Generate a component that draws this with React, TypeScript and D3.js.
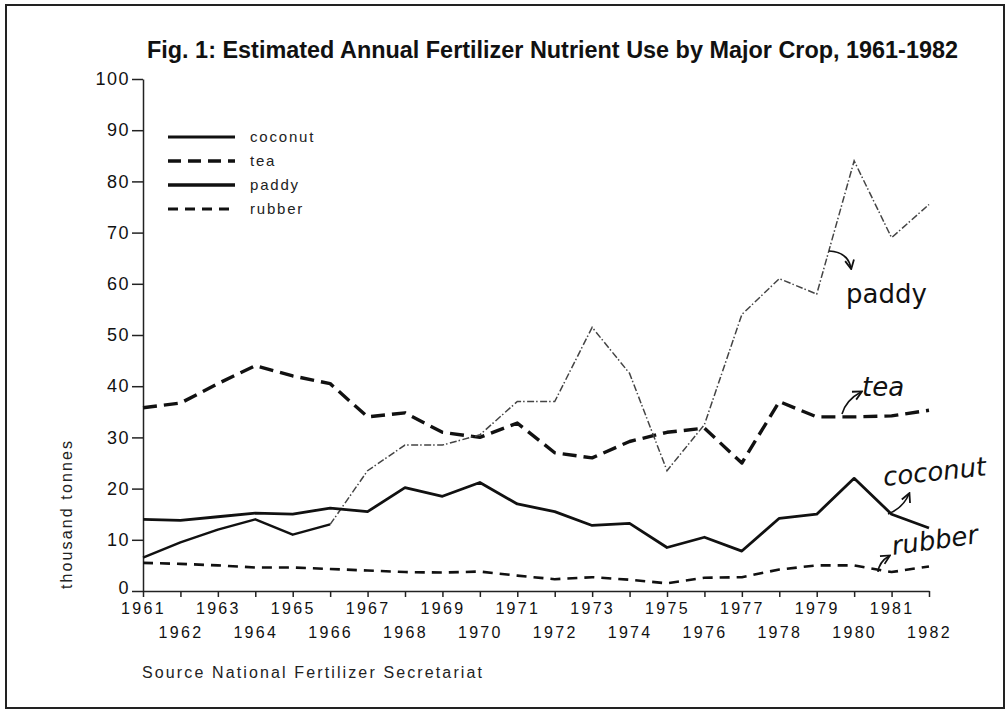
import React, { useEffect, useRef } from 'react';
import * as d3 from 'd3';

// values (thousand tonnes)
const years = [1961, 1962, 1963, 1964, 1965, 1966, 1967, 1968, 1969, 1970, 1971,
    1972, 1973, 1974, 1975, 1976, 1977, 1978, 1979, 1980, 1981, 1982];
const coconut = [14, 13.8, 14.5, 15.2, 15, 16.2, 15.5, 20.2, 18.5, 21.2, 17,
    15.5, 12.8, 13.2, 8.5, 10.5, 7.8, 14.2, 15, 22, 15, 12.3];
const tea = [35.8, 36.7, 40.5, 44, 42, 40.5, 34, 34.8, 31, 30, 32.8,
    27, 26, 29.2, 31, 31.8, 25, 37, 34, 34, 34.2, 35.3];
const paddy = [6.5, 9.5, 12, 14, 11, 13, 23.5, 28.5, 28.5, 30.5, 37,
    37, 51.5, 42.5, 23.5, 32.5, 54, 61, 58, 84, 69, 75.5];
const rubber = [5.5, 5.3, 5, 4.6, 4.6, 4.3, 4, 3.7, 3.6, 3.8, 3,
    2.3, 2.7, 2.2, 1.5, 2.6, 2.7, 4.2, 5, 5, 3.7, 4.8];
const yTicks = [0, 10, 20, 30, 40, 50, 60, 70, 80, 90, 100];
const legendNames = ['coconut', 'tea', 'paddy', 'rubber'];

const title = 'Fig. 1:  Estimated Annual Fertilizer Nutrient Use by Major Crop, 1961-1982';
const yTitle = 'thousand tonnes';
const sourceNote = 'Source  National Fertilizer Secretariat';

const lineStyle = {
    coconut: { width: 3, dash: null },
    tea: { width: 3.6, dash: '13 7' },
    paddy: { width: 3.4, dash: null },
    rubber: { width: 3.2, dash: '10 7' },
};

const labelFont = '"Liberation Sans", Arial, sans-serif';
const handFont = '"DejaVu Sans", sans-serif';

export default function App() {
    const ref = useRef<SVGSVGElement>(null);

    useEffect(() => {
        const svg = d3.select(ref.current);
        svg.selectAll('*').remove();

        const x = d3.scaleLinear().domain([1961, 1982]).range([143, 929]);
        const y = d3.scaleLinear().domain([0, 100]).range([591, 79]);

        svg.append('defs')
            .append('marker')
            .attr('id', 'arrow')
            .attr('viewBox', '0 0 10 10')
            .attr('refX', 8)
            .attr('refY', 5)
            .attr('markerWidth', 7)
            .attr('markerHeight', 7)
            .attr('orient', 'auto')
            .append('path')
            .attr('d', 'M1,1 L9,5 L1,9')
            .attr('fill', 'none')
            .attr('stroke', '#111')
            .attr('stroke-width', 1.6);

        // frame
        svg.append('rect')
            .attr('x', 6).attr('y', 5)
            .attr('width', 998).attr('height', 703)
            .attr('fill', 'none')
            .attr('stroke', '#222')
            .attr('stroke-width', 2);

        svg.append('text')
            .attr('x', 147).attr('y', 58)
            .attr('textLength', 811)
            .attr('lengthAdjust', 'spacingAndGlyphs')
            .style('font-family', '"Liberation Sans Narrow", "Liberation Sans", Arial, sans-serif')
            .style('font-weight', 'bold')
            .style('font-size', '23px')
            .style('fill', '#111')
            .text(title);

        // y axis
        const yAxis = svg.append('g')
            .attr('transform', 'translate(143,0)')
            .call(d3.axisLeft(y).tickValues(yTicks).tickSize(11).tickSizeOuter(0).tickPadding(2));
        yAxis.select('.domain').attr('stroke', '#222').attr('stroke-width', 1.5);
        yAxis.selectAll('.tick line').attr('stroke', '#222').attr('stroke-width', 1.5);
        yAxis.selectAll('.tick text')
            .attr('y', (d) => (d === 0 ? -3 : 0))
            .style('font-family', labelFont)
            .style('font-size', '18px')
            .style('letter-spacing', '1.5px')
            .style('fill', '#111');

        // x axis, labels staggered in two rows
        const xAxis = svg.append('g')
            .attr('transform', 'translate(0,591)')
            .call(d3.axisBottom(x).tickValues(years).tickFormat(d3.format('d')).tickSize(6).tickSizeOuter(0));
        xAxis.select('.domain').attr('stroke', '#222').attr('stroke-width', 1.5);
        xAxis.selectAll('.tick line').attr('stroke', '#222').attr('stroke-width', 1.5);
        xAxis.selectAll('.tick text')
            .attr('y', (_, i) => (i % 2 === 0 ? 12 : 36))
            .style('font-family', labelFont)
            .style('font-size', '16px')
            .style('letter-spacing', '2.3px')
            .style('fill', '#111');

        svg.append('text')
            .attr('transform', 'translate(72,515) rotate(-90)')
            .attr('text-anchor', 'middle')
            .attr('textLength', 148)
            .style('font-family', labelFont)
            .style('font-size', '16px')
            .style('fill', '#222')
            .text(yTitle);

        svg.append('text')
            .attr('x', 142).attr('y', 678)
            .attr('textLength', 340)
            .style('font-family', labelFont)
            .style('font-size', '16px')
            .style('fill', '#222')
            .text(sourceNote);

        const line = d3.line<number>()
            .x((_, i) => x(years[i]))
            .y((d) => y(d));

        const draw = (values, width, dash, color = '#111') => {
            svg.append('path')
                .attr('d', line(values))
                .attr('fill', 'none')
                .attr('stroke', color)
                .attr('stroke-width', width)
                .attr('stroke-linejoin', 'round')
                .attr('stroke-dasharray', dash);
        };

        draw(rubber, 2.6, '10 7');
        draw(tea, 3.4, '14 7');
        // paddy: heavy at first, then a faint broken trace
        svg.append('path')
            .attr('d', line(paddy.slice(0, 6)))
            .attr('fill', 'none').attr('stroke', '#111')
            .attr('stroke-width', 2.4).attr('stroke-linejoin', 'round');
        svg.append('path')
            .attr('d', d3.line<number>()
                .x((_, i) => x(years[i + 5]))
                .y((d) => y(d))(paddy.slice(5)))
            .attr('fill', 'none').attr('stroke', '#444')
            .attr('stroke-width', 1.5)
            .attr('stroke-dasharray', '7 2 1.5 2.5');
        draw(coconut, 2.8, null);

        // legend
        const legend = svg.append('g');
        legendNames.forEach((name, i) => {
            const ly = 137 + i * 24;
            legend.append('line')
                .attr('x1', 168).attr('x2', 235)
                .attr('y1', ly).attr('y2', ly)
                .attr('stroke', '#111')
                .attr('stroke-width', lineStyle[name].width)
                .attr('stroke-dasharray', lineStyle[name].dash);
            legend.append('text')
                .attr('x', 250).attr('y', ly + 5)
                .style('font-family', labelFont)
                .style('font-size', '15px')
                .style('letter-spacing', '1.8px')
                .style('fill', '#222')
                .text(name);
        });

        // handwritten notes
        const note = (label, tx, ty, rot, italic) => {
            svg.append('text')
                .attr('transform', `translate(${tx},${ty}) rotate(${rot})`)
                .style('font-family', handFont)
                .style('font-size', '26px')
                .style('font-style', italic ? 'italic' : 'normal')
                .style('fill', '#111')
                .text(label);
        };
        const arrow = (d) => {
            svg.append('path')
                .attr('d', d)
                .attr('fill', 'none')
                .attr('stroke', '#111')
                .attr('stroke-width', 1.6)
                .attr('marker-end', 'url(#arrow)');
        };
        note('paddy', 846, 303, 0, false);
        arrow('M829,251 Q848,252 851,268');
        note('tea', 862, 396, 0, true);
        arrow('M842,414 Q846,400 861,392');
        note('coconut', 884, 486, -6, true);
        arrow('M888,514 Q903,508 909,494');
        note('rubber', 893, 555, -8, true);
        arrow('M878,572 Q879,562 889,556');
    }, []);

    return (
        <svg
            ref={ref}
            width={1007}
            height={712}
            style={{ position: 'absolute', left: 0, top: 0, background: '#fff' }}
        />
    );
}
